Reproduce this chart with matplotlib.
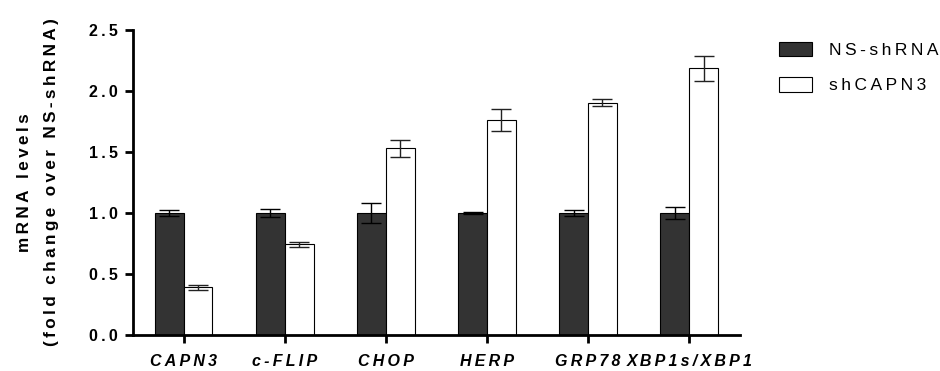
import numpy as np
import matplotlib
matplotlib.use('Agg')
import matplotlib.pyplot as plt
from matplotlib.patches import Patch

plt.rcParams['font.family'] = ['Liberation Sans', 'DejaVu Sans']

# qPCR results, mean +/- SEM
genes = ['CAPN3', 'c-FLIP', 'CHOP', 'HERP', 'GRP78', 'XBP1s/XBP1']
ns_mean = [1.00, 1.00, 1.00, 1.00, 1.00, 1.00]
ns_err = [0.022, 0.035, 0.08, 0.005, 0.025, 0.048]
sh_mean = [0.39, 0.745, 1.53, 1.76, 1.905, 2.185]
sh_err = [0.02, 0.02, 0.07, 0.09, 0.027, 0.10]
series = ['NS-shRNA', 'shCAPN3']
yticks = [0.0, 0.5, 1.0, 1.5, 2.0, 2.5]

THIN = '\u2009'


def spaced(s, sep=THIN):
    # Prism-style letter spacing
    return sep.join(s)


fig = plt.figure(figsize=(9.4, 3.71), dpi=100)
ax = fig.add_axes([0.1415, 0.097, 0.6455, 0.822])

x = np.arange(len(genes))
w = 0.285
ax.bar(x - w / 2, ns_mean, w, color='#333333', edgecolor='black', linewidth=0.8, zorder=2)
ax.bar(x + w / 2, sh_mean, w, color='white', edgecolor='black', linewidth=0.8, zorder=2)
ax.errorbar(x - w / 2, ns_mean, yerr=ns_err, fmt='none', ecolor='black',
            elinewidth=1.0, capsize=7, capthick=1.0, zorder=3)
ax.errorbar(x + w / 2, sh_mean, yerr=sh_err, fmt='none', ecolor='#222222',
            elinewidth=1.0, capsize=7, capthick=1.0, zorder=3)

ax.set_xlim(-0.5, 5.5)
ax.set_ylim(0, 2.5)
for side in ['top', 'right']:
    ax.spines[side].set_visible(False)
for side in ['left', 'bottom']:
    ax.spines[side].set_linewidth(2.0)

ax.set_yticks(yticks)
ax.set_yticklabels([spaced('%.1f' % v) for v in yticks],
                   fontsize=11.5, fontweight='bold')
ax.set_xticks(x)
ax.set_xticklabels([spaced(g) for g in genes], fontsize=11.5,
                   fontweight='bold', fontstyle='italic')
ax.tick_params(axis='both', width=2.0, length=6, direction='out', pad=5)
ax.tick_params(axis='x', pad=8)

ax.set_ylabel(spaced('mRNA levels') + '\n' + spaced('(fold change over NS-shRNA)'),
              fontsize=12.3, fontweight='bold', linespacing=2.0)
ax.yaxis.set_label_coords(-0.1215, 0.5)

handles = [Patch(facecolor='#333333', edgecolor='black', linewidth=0.8),
           Patch(facecolor='white', edgecolor='black', linewidth=0.8)]
fig.legend(handles, [spaced(s) for s in series], loc='upper left',
           bbox_to_anchor=(0.812, 0.93), frameon=False, fontsize=12.5,
           handlelength=1.9, handleheight=0.92, handletextpad=1.0, labelspacing=1.1)

fig.savefig('out.png', dpi=100)
